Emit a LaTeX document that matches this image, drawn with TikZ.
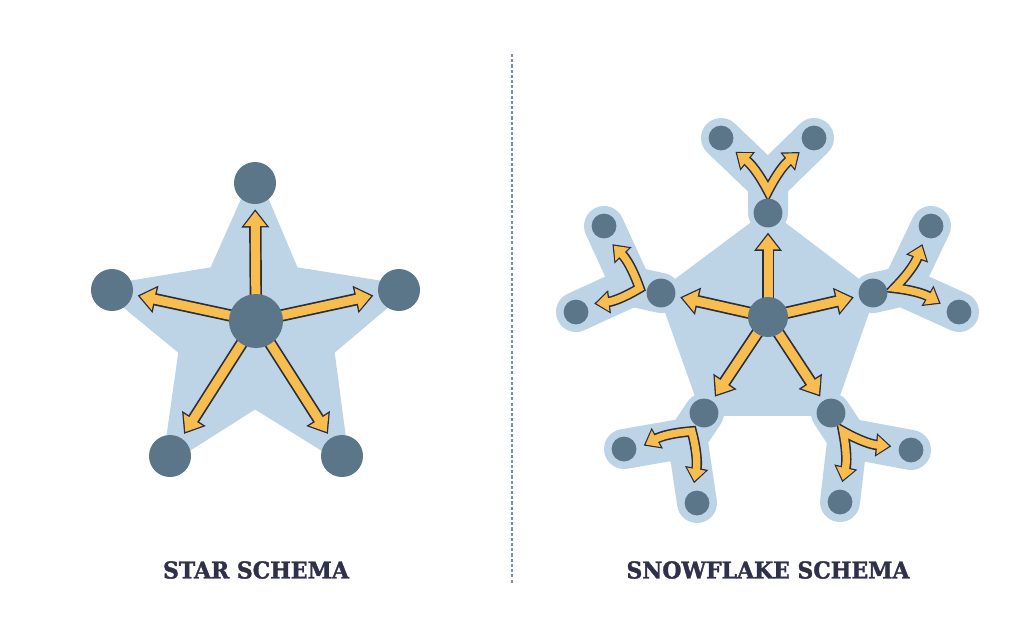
\documentclass[tikz,border=0pt]{standalone}
\usepackage{fontspec}
\newfontfamily\headfont{DejaVu Serif}[BoldFeatures={FakeBold=1.6,FakeStretch=0.945}]
\usepackage{tikz}
\usetikzlibrary{calc}
\usetikzlibrary{arrows.meta}
\definecolor{pale}{HTML}{BCD4E6}
\definecolor{slate}{HTML}{5B7689}
\definecolor{amber}{HTML}{F8BD4F}
\definecolor{ink}{HTML}{2B2C3C}
\definecolor{headink}{HTML}{2F3049}
\definecolor{rulegrey}{HTML}{7890A0}
\pgfdeclarelayer{back}
\pgfsetlayers{back,main}

\begin{document}
\begin{tikzpicture}[x=0.025cm,y=-0.025cm,
  hub/.style={circle,fill=slate,inner sep=0pt,minimum size=#1},
  hub/.default=1.05cm,
  flow/.style={line width=6.4pt,draw=amber,shorten >=5.1pt,-{Triangle[length=10.4pt,width=15.4pt]},
    preaction={draw=ink,line width=8.8pt,shorten >=3.5pt,-{Triangle[length=13pt,width=19pt]}}},
  split/.style={line width=5.2pt,draw=amber,line join=miter,shorten >=1.5pt,shorten <=1.5pt,
    {Triangle[length=8.6pt,width=12.8pt]}-{Triangle[length=8.6pt,width=12.8pt]},
    preaction={draw=ink,line width=7.4pt,line join=miter,shorten >=0pt,shorten <=0pt,
      {Triangle[length=11pt,width=16pt]}-{Triangle[length=11pt,width=16pt]}}},
  band/.style={draw=pale,line width=1cm,line cap=round,line join=round},
  title/.style={font=\headfont\bfseries\fontsize{16.5}{18}\selectfont,text=headink}]
  \useasboundingbox (0,0) rectangle (1024,640);

  % star schema
  \node[hub=1.35cm] (sc) at (256,321) {};
  \node[hub] (s1) at (255,183) {};
  \node[hub] (s2) at (399,290) {};
  \node[hub] (s3) at (342,456) {};
  \node[hub] (s4) at (170,456) {};
  \node[hub] (s5) at (112,290) {};
  \coordinate (i1) at (293,273);
  \coordinate (i2) at (328,350);
  \coordinate (i3) at (255,402);
  \coordinate (i4) at (185,350);
  \coordinate (i5) at (215,273);
  \node[title] (startitle) at (256,570) {STAR SCHEMA};

  % snowflake schema
  \node[hub=1cm] (fc) at (768,317) {};
  \node[hub=0.72cm] (t) at (768,213) {};
  \node[hub=0.72cm] (r) at (873,293) {};
  \node[hub=0.72cm] (br) at (831,413) {};
  \node[hub=0.72cm] (bl) at (704,413) {};
  \node[hub=0.72cm] (l) at (661,293) {};
  \node[hub=0.62cm] (t1) at (721,138) {};
  \node[hub=0.62cm] (t2) at (814,138) {};
  \node[hub=0.62cm] (r1) at (931,226) {};
  \node[hub=0.62cm] (r2) at (959,312) {};
  \node[hub=0.62cm] (br1) at (911,450) {};
  \node[hub=0.62cm] (br2) at (840,502) {};
  \node[hub=0.62cm] (bl1) at (624,449) {};
  \node[hub=0.62cm] (bl2) at (697,503) {};
  \node[hub=0.62cm] (l1) at (604,226) {};
  \node[hub=0.62cm] (l2) at (576,312) {};
  \node[title] (flaketitle) at (768,570) {SNOWFLAKE SCHEMA};

  \coordinate (divtop) at (512,54);
  \coordinate (divbot) at (512,583);
  \draw[rulegrey,line width=1pt,dash pattern=on 2.2pt off 1.5pt] (divtop) -- (divbot);

  \begin{pgfonlayer}{back}
    \filldraw[pale,line width=9pt,line join=round] (s1.center) -- (i1) -- (s2.center) -- (i2) -- (s3.center)
      -- (i3) -- (s4.center) -- (i4) -- (s5.center) -- (i5) -- cycle;
    \draw[flow] (sc.center) -- (s1);
    \draw[flow] (sc.center) -- (s2);
    \draw[flow] (sc.center) -- (s3);
    \draw[flow] (sc.center) -- (s4);
    \draw[flow] (sc.center) -- (s5);

    \filldraw[pale,line width=4pt,line join=round] (t.center) -- (r.center) -- (br.center) -- (bl.center) -- (l.center) -- cycle;
    \foreach \n in {t,r,br,bl,l} {
      \coordinate (\n j) at ($(\n)!-0.75cm!(fc)$);
      \coordinate (\n v) at ($(\n)!-0.55cm!(fc)$);
      \draw[band] (\n 1.center) -- (\n j) -- (\n 2.center) (\n j) -- (\n.center);
      \draw[flow] (fc.center) -- (\n);
      \draw[split] ($(\n 1)!0.5cm!(\n j)$) to[bend left=12] (\n v) to[bend left=12] ($(\n 2)!0.5cm!(\n j)$);
    }
  \end{pgfonlayer}
\end{tikzpicture}
\end{document}
